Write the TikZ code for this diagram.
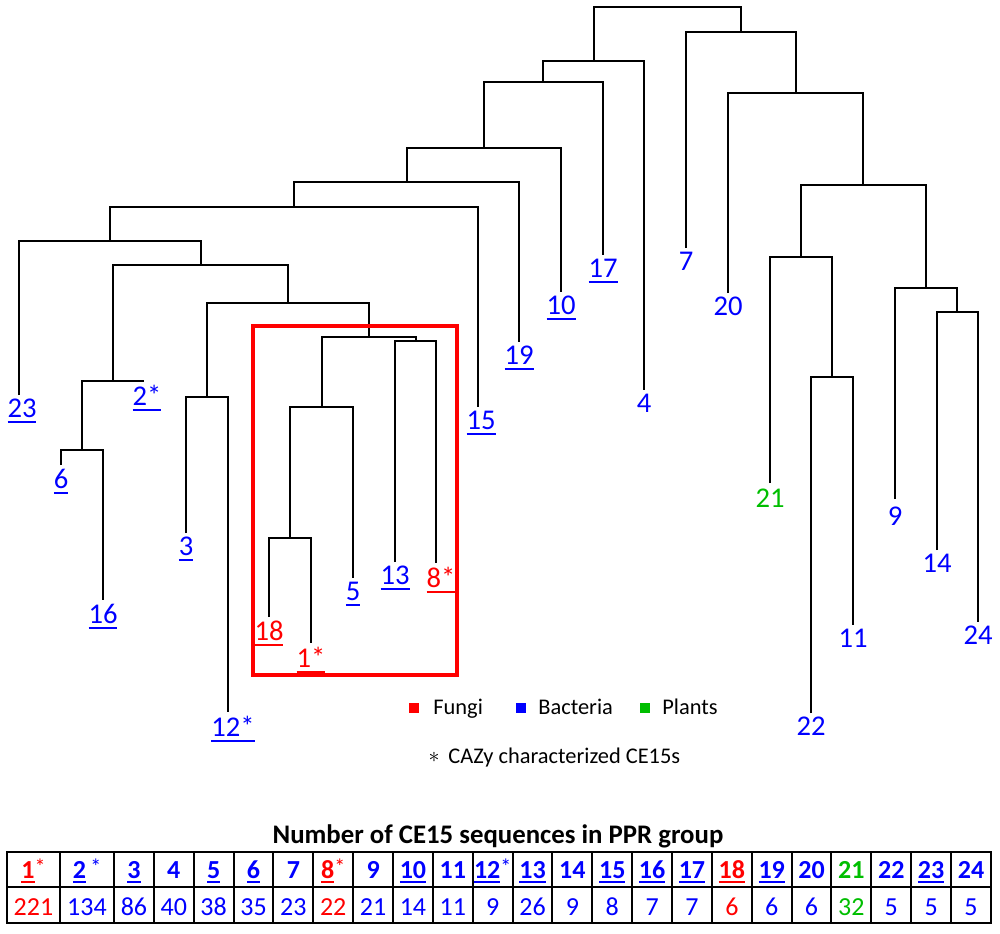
\documentclass[tikz,border=0pt]{standalone}
\usepackage{fontspec}
\setmainfont{Carlito}
\usetikzlibrary{positioning}
\definecolor{fungi}{RGB}{255,0,0}
\definecolor{bact}{RGB}{0,0,255}
\definecolor{plant}{RGB}{0,190,0}
\newsavebox\ulbox
\newcommand\ul[1]{\sbox\ulbox{#1}\rlap{\rule[-2.5pt]{\wd\ulbox}{1pt}}\usebox\ulbox}
\newcommand\sstar{\raisebox{2pt}{\fontsize{11}{11}\mdseries\selectfont *}}
\tikzset{
  branch/.style={line width=1pt},
  leaf/.style={inner sep=0pt,font=\fontsize{14.3}{16}\selectfont,text=bact},
  key/.style={minimum size=5pt,inner sep=0pt},
  keytext/.style={inner sep=0pt,font=\fontsize{11.2}{13}\selectfont},
  grid/.style={line width=1pt},
  hcell/.style={inner sep=0pt,anchor=base,font=\bfseries\fontsize{13}{15}\selectfont},
  vcell/.style={inner sep=0pt,anchor=base,font=\fontsize{13}{15}\selectfont},
}

\begin{document}
\begin{tikzpicture}[x=0.5pt,y=-0.5pt]
    \useasboundingbox (0,0) rectangle (1000,933);

    % leaf tips
    \coordinate (t23) at (19,395);
    \coordinate (t2)  at (144,381);
    \coordinate (t6)  at (61,465);
    \coordinate (t16) at (103,600);
    \coordinate (t3)  at (186,533);
    \coordinate (t12) at (228,712);
    \coordinate (t18) at (269,617);
    \coordinate (t1)  at (311,643);
    \coordinate (t5)  at (353,578);
    \coordinate (t13) at (395,562);
    \coordinate (t8)  at (436,563);
    \coordinate (t15) at (478,407);
    \coordinate (t19) at (519,342);
    \coordinate (t10) at (561,292);
    \coordinate (t17) at (603,255);
    \coordinate (t4)  at (644,390);
    \coordinate (t7)  at (686,248);
    \coordinate (t20) at (728,293);
    \coordinate (t21) at (770,483);
    \coordinate (t22) at (811,713);
    \coordinate (t11) at (853,625);
    \coordinate (t9)  at (895,499);
    \coordinate (t14) at (937,550);
    \coordinate (t24) at (978,622);

    % group labels
    \node[leaf,below=2pt of t23,xshift=1.5pt] (l23) {\ul{23}};
    \node[leaf,below=2pt of t2,xshift=1.5pt]  (l2)  {\ul{2*}};
    \node[leaf,below=2pt of t6]               (l6)  {\ul{6}};
    \node[leaf,below=2pt of t16]              (l16) {\ul{16}};
    \node[leaf,below=2pt of t3]               (l3)  {\ul{3}};
    \node[leaf,below=2pt of t12,xshift=2.5pt] (l12) {\ul{12*}};
    \node[leaf,below=2pt of t18,text=fungi]   (l18) {\ul{18}};
    \node[leaf,below=2pt of t1,text=fungi]    (l1)  {\ul{1*}};
    \node[leaf,below=2pt of t5]               (l5)  {\ul{5}};
    \node[leaf,below=2pt of t13]              (l13) {\ul{13}};
    \node[leaf,below=2pt of t8,xshift=2.5pt,text=fungi] (l8) {\ul{8*}};
    \node[leaf,below=2pt of t15,xshift=1.5pt] (l15) {\ul{15}};
    \node[leaf,below=2pt of t19]              (l19) {\ul{19}};
    \node[leaf,below=2pt of t10]              (l10) {\ul{10}};
    \node[leaf,below=2pt of t17]              (l17) {\ul{17}};
    \node[leaf,below=2pt of t4]               (l4)  {4};
    \node[leaf,below=2pt of t7]               (l7)  {7};
    \node[leaf,below=2pt of t20]              (l20) {20};
    \node[leaf,below=3pt of t21,text=plant]   (l21) {21};
    \node[leaf,below=2pt of t22]              (l22) {22};
    \node[leaf,below=2pt of t11]              (l11) {11};
    \node[leaf,below=4pt of t9]               (l9)  {9};
    \node[leaf,below=2pt of t14]              (l14) {14};
    \node[leaf,below=2pt of t24]              (l24) {24};

    % inner nodes
    \coordinate (root) at (667,7);
    \coordinate (nA) at (594,61);
    \coordinate (nB) at (543,82);
    \coordinate (nC) at (484,148);
    \coordinate (nD) at (407,182);
    \coordinate (nE) at (294,207);
    \coordinate (nF) at (110,241);
    \coordinate (nG) at (201,265);
    \coordinate (nH) at (113,381);
    \coordinate (nJ) at (82,450);
    \coordinate (nI) at (288,303);
    \coordinate (nK) at (207,397);
    \coordinate (nL) at (369,337);
    \coordinate (nM) at (322,407);
    \coordinate (nN) at (416,341);
    \coordinate (nO) at (290,538);
    \coordinate (nP) at (741,32);
    \coordinate (nQ) at (796,93);
    \coordinate (nR) at (863,185);
    \coordinate (nS) at (801,257);
    \coordinate (nU) at (832,377);
    \coordinate (nT) at (926,288);
    \coordinate (nV) at (957,312);

    \draw[branch] (nA) |- (root) -| (nP);
    \draw[branch] (nB) |- (nA) -| (t4);
    \draw[branch] (nC) |- (nB) -| (t17);
    \draw[branch] (nD) |- (nC) -| (t10);
    \draw[branch] (nE) |- (nD) -| (t19);
    \draw[branch] (nF) |- (nE) -| (t15);
    \draw[branch] (t23) |- (nF) -| (nG);
    \draw[branch] (nH) |- (nG) -| (nI);
    \draw[branch] (nJ) |- (nH) -| (t2);
    \draw[branch] (t6) |- (nJ) -| (t16);
    \draw[branch] (nK) |- (nI) -| (nL);
    \draw[branch] (t3) |- (nK) -| (t12);
    \draw[branch] (nM) |- (nL) -| (nN);
    \draw[branch] (t13) |- (nN) -| (t8);
    \draw[branch] (nO) |- (nM) -| (t5);
    \draw[branch] (t18) |- (nO) -| (t1);
    \draw[branch] (t7) |- (nP) -| (nQ);
    \draw[branch] (t20) |- (nQ) -| (nR);
    \draw[branch] (nS) |- (nR) -| (nT);
    \draw[branch] (t21) |- (nS) -| (nU);
    \draw[branch] (t22) |- (nU) -| (t11);
    \draw[branch] (t9) |- (nT) -| (nV);
    \draw[branch] (t14) |- (nV) -| (t24);

    % fungal clade
    \draw[fungi,line width=2pt] (253,325.5) rectangle (457,675);

    % key
    \node[key,fill=fungi] (kf) at (414,708) {};
    \node[key,fill=bact]  (kb) at (521,708) {};
    \node[key,fill=plant] (kp) at (645,708) {};
    \node[keytext,anchor=base west] (tf) at (433,714) {Fungi};
    \node[keytext,anchor=base west] (tb) at (538,714) {Bacteria};
    \node[keytext,anchor=base west] (tp) at (662,714) {Plants};
    \node[keytext] (ka) at (434,757) {$\ast$};
    \node[keytext,anchor=base west] (tc) at (448,763) {CAZy characterized CE15s};

    % table
    \node[hcell,font=\bfseries\fontsize{13.4}{15}\selectfont] (title) at (498,843) {Number of CE15 sequences in PPR group};
    \foreach \h/\v/\c [count=\i] in {
        {\ul{1}\sstar}/221/fungi, {\ul{2}\,\sstar}/134/bact, \ul{3}/86/bact,
        4/40/bact, \ul{5}/38/bact, \ul{6}/35/bact, 7/23/bact,
        {\ul{8}\sstar}/22/fungi, 9/21/bact, \ul{10}/14/bact, 11/11/bact,
        {\ul{12}\sstar}/9/bact, \ul{13}/26/bact, 14/9/bact, \ul{15}/8/bact,
        \ul{16}/7/bact, \ul{17}/7/bact, \ul{18}/6/fungi, \ul{19}/6/bact,
        20/6/bact, 21/32/plant, 22/5/bact, \ul{23}/5/bact, 24/5/bact}
    {
        \pgfmathsetmacro\xl{\i==1 ? 7 : (\i==2 ? 60 : 114+39.86*(\i-3))}
        \pgfmathsetmacro\xr{\i==1 ? 60 : (\i==2 ? 114 : 114+39.86*(\i-2))}
        \draw[grid] (\xl,852) rectangle (\xr,887) (\xl,887) rectangle (\xr,923);
        \node[hcell,text=\c] (h\i) at ({(\xl+\xr)/2},878) {\h};
        \node[vcell,text=\c] (v\i) at ({(\xl+\xr)/2},915) {\v};
    }
\end{tikzpicture}
\end{document}
